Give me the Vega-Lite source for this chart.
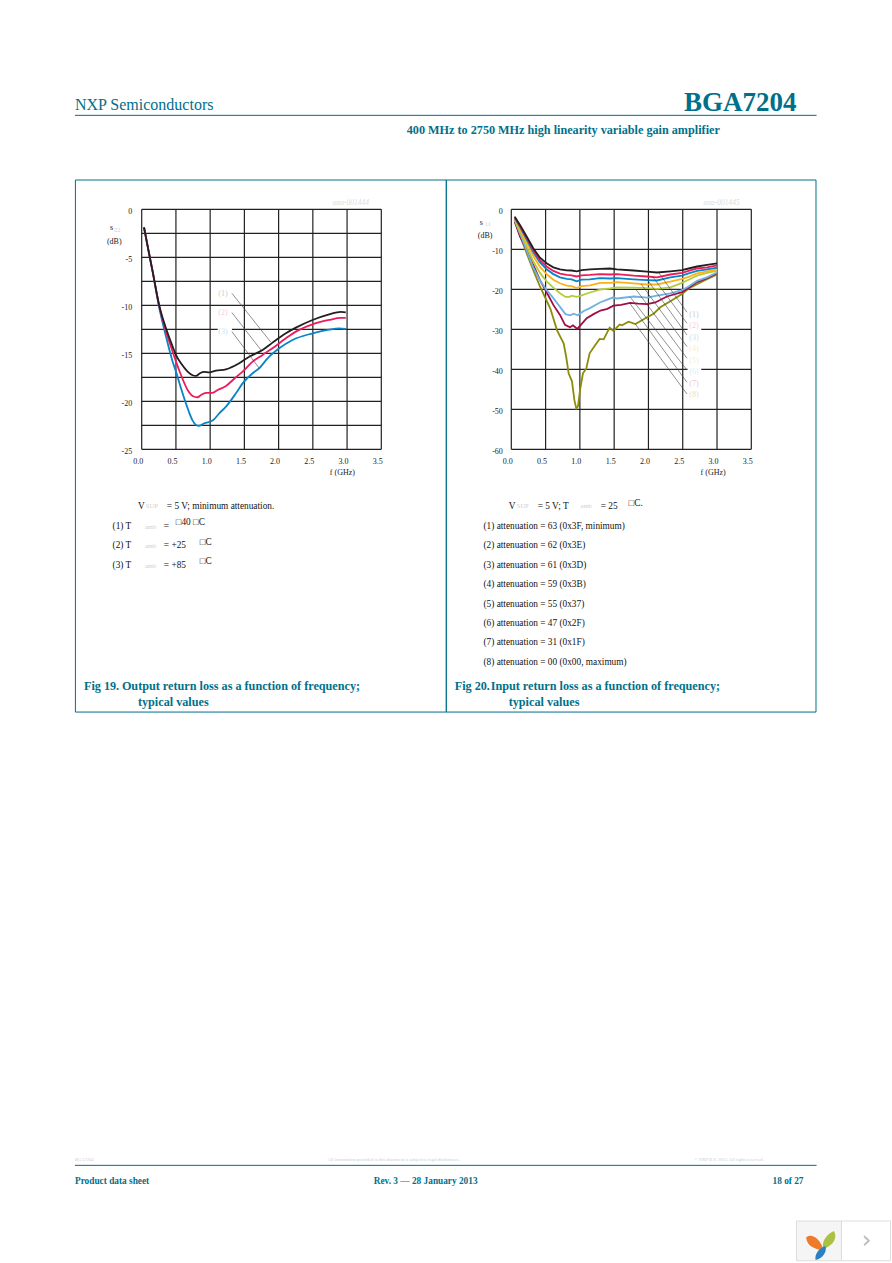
{"$schema":"https://vega.github.io/schema/vega-lite/v6.json","width":892,"height":1263,"autosize":{"type":"fit","contains":"padding"},"padding":0,"background":"white","config":{"view":{"stroke":null},"text":{"font":"Liberation Serif"}},
"datasets":{
"s22":[
{"series":"3","f":0.034,"db":-1.875},{"series":"3","f":0.088,"db":-3.89},{"series":"3","f":0.16,"db":-6.5},{"series":"3","f":0.258,"db":-10.31},{"series":"3","f":0.355,"db":-13.26},{"series":"3","f":0.452,"db":-15.87},{"series":"3","f":0.501,"db":-16.91},{"series":"3","f":0.574,"db":-18.65},{"series":"3","f":0.671,"db":-20.73},{"series":"3","f":0.744,"db":-22.01},{"series":"3","f":0.832,"db":-22.57},{"series":"3","f":0.914,"db":-22.29},{"series":"3","f":1.036,"db":-22.01},{"series":"3","f":1.133,"db":-21.25},{"series":"3","f":1.231,"db":-20.56},{"series":"3","f":1.376,"db":-19.17},{"series":"3","f":1.474,"db":-18.13},{"series":"3","f":1.62,"db":-17.08},{"series":"3","f":1.717,"db":-16.56},{"series":"3","f":1.839,"db":-15.52},{"series":"3","f":2.009,"db":-14.48},{"series":"3","f":2.203,"db":-13.61},{"series":"3","f":2.495,"db":-12.92},{"series":"3","f":2.738,"db":-12.53},{"series":"3","f":2.884,"db":-12.4},{"series":"3","f":2.981,"db":-12.47},
{"series":"2","f":0.034,"db":-1.875},{"series":"2","f":0.088,"db":-3.89},{"series":"2","f":0.16,"db":-6.5},{"series":"2","f":0.258,"db":-10.14},{"series":"2","f":0.355,"db":-12.74},{"series":"2","f":0.452,"db":-14.83},{"series":"2","f":0.501,"db":-15.87},{"series":"2","f":0.574,"db":-17.26},{"series":"2","f":0.671,"db":-18.82},{"series":"2","f":0.744,"db":-19.44},{"series":"2","f":0.817,"db":-19.58},{"series":"2","f":0.866,"db":-19.34},{"series":"2","f":0.939,"db":-19.13},{"series":"2","f":1.026,"db":-19.13},{"series":"2","f":1.109,"db":-18.82},{"series":"2","f":1.231,"db":-18.4},{"series":"2","f":1.376,"db":-17.5},{"series":"2","f":1.474,"db":-16.91},{"series":"2","f":1.62,"db":-15.87},{"series":"2","f":1.766,"db":-15.17},{"series":"2","f":1.911,"db":-14.48},{"series":"2","f":2.106,"db":-13.44},{"series":"2","f":2.252,"db":-12.74},{"series":"2","f":2.495,"db":-11.98},{"series":"2","f":2.738,"db":-11.53},{"series":"2","f":2.908,"db":-11.32},{"series":"2","f":2.981,"db":-11.32},
{"series":"1","f":0.034,"db":-1.875},{"series":"1","f":0.088,"db":-3.89},{"series":"1","f":0.16,"db":-6.5},{"series":"1","f":0.258,"db":-10.07},{"series":"1","f":0.355,"db":-12.4},{"series":"1","f":0.452,"db":-14.3},{"series":"1","f":0.5,"db":-15.17},{"series":"1","f":0.574,"db":-16.04},{"series":"1","f":0.671,"db":-16.9},{"series":"1","f":0.744,"db":-17.29},{"series":"1","f":0.793,"db":-17.36},{"series":"1","f":0.851,"db":-17.08},{"series":"1","f":0.914,"db":-16.94},{"series":"1","f":0.987,"db":-16.98},{"series":"1","f":1.085,"db":-16.8},{"series":"1","f":1.23,"db":-16.67},{"series":"1","f":1.425,"db":-16.04},{"series":"1","f":1.571,"db":-15.35},{"series":"1","f":1.766,"db":-14.65},{"series":"1","f":1.911,"db":-13.89},{"series":"1","f":2.106,"db":-12.92},{"series":"1","f":2.252,"db":-12.33},{"series":"1","f":2.495,"db":-11.53},{"series":"1","f":2.738,"db":-10.94},{"series":"1","f":2.908,"db":-10.69},{"series":"1","f":2.981,"db":-10.73}
],
"s11":[
{"series":"8","f":0.049,"db":-3.1},{"series":"8","f":0.126,"db":-6.4},{"series":"8","f":0.224,"db":-11},{"series":"8","f":0.32,"db":-15.2},{"series":"8","f":0.418,"db":-19.3},{"series":"8","f":0.5,"db":-22.3},{"series":"8","f":0.569,"db":-24.8},{"series":"8","f":0.666,"db":-30.2},{"series":"8","f":0.763,"db":-33.5},{"series":"8","f":0.8,"db":-36.8},{"series":"8","f":0.836,"db":-41},{"series":"8","f":0.885,"db":-43},{"series":"8","f":0.92,"db":-47.7},{"series":"8","f":0.948,"db":-49.8},{"series":"8","f":0.972,"db":-49.3},{"series":"8","f":1.006,"db":-44.8},{"series":"8","f":1.045,"db":-41},{"series":"8","f":1.094,"db":-39.8},{"series":"8","f":1.142,"db":-36},{"series":"8","f":1.225,"db":-33.9},{"series":"8","f":1.288,"db":-32.4},{"series":"8","f":1.347,"db":-32.5},{"series":"8","f":1.434,"db":-29.6},{"series":"8","f":1.49,"db":-30.4},{"series":"8","f":1.58,"db":-28.8},{"series":"8","f":1.614,"db":-29},{"series":"8","f":1.71,"db":-28.1},{"series":"8","f":1.81,"db":-28.7},{"series":"8","f":1.98,"db":-27},{"series":"8","f":2.076,"db":-26.1},{"series":"8","f":2.173,"db":-24.5},{"series":"8","f":2.367,"db":-22.5},{"series":"8","f":2.489,"db":-21.2},{"series":"8","f":2.586,"db":-19.8},{"series":"8","f":2.708,"db":-18.7},{"series":"8","f":2.854,"db":-17.5},{"series":"8","f":3,"db":-16.3},
{"series":"7","f":0.049,"db":-3},{"series":"7","f":0.126,"db":-6.8},{"series":"7","f":0.224,"db":-10.2},{"series":"7","f":0.32,"db":-13.9},{"series":"7","f":0.418,"db":-17.7},{"series":"7","f":0.515,"db":-20.75},{"series":"7","f":0.613,"db":-23.9},{"series":"7","f":0.71,"db":-26.4},{"series":"7","f":0.783,"db":-28.9},{"series":"7","f":0.856,"db":-29.5},{"series":"7","f":0.9,"db":-29},{"series":"7","f":0.963,"db":-29.9},{"series":"7","f":1.1,"db":-27.2},{"series":"7","f":1.2,"db":-26.2},{"series":"7","f":1.3,"db":-25.3},{"series":"7","f":1.4,"db":-24.9},{"series":"7","f":1.49,"db":-24.1},{"series":"7","f":1.6,"db":-23.9},{"series":"7","f":1.735,"db":-23.4},{"series":"7","f":1.85,"db":-23.6},{"series":"7","f":1.98,"db":-23.7},{"series":"7","f":2.1,"db":-23.3},{"series":"7","f":2.27,"db":-21.8},{"series":"7","f":2.37,"db":-21.3},{"series":"7","f":2.49,"db":-20.7},{"series":"7","f":2.586,"db":-19.6},{"series":"7","f":2.708,"db":-18.2},{"series":"7","f":2.854,"db":-17.2},{"series":"7","f":3,"db":-16},
{"series":"6","f":0.049,"db":-2.7},{"series":"6","f":0.126,"db":-6},{"series":"6","f":0.224,"db":-10.3},{"series":"6","f":0.32,"db":-14.5},{"series":"6","f":0.418,"db":-17.8},{"series":"6","f":0.515,"db":-20.2},{"series":"6","f":0.613,"db":-22.2},{"series":"6","f":0.71,"db":-24.4},{"series":"6","f":0.79,"db":-26.2},{"series":"6","f":0.86,"db":-26.5},{"series":"6","f":0.91,"db":-26.1},{"series":"6","f":0.97,"db":-26.5},{"series":"6","f":1.05,"db":-25.5},{"series":"6","f":1.147,"db":-24.7},{"series":"6","f":1.293,"db":-23.3},{"series":"6","f":1.4,"db":-22.6},{"series":"6","f":1.49,"db":-22},{"series":"6","f":1.54,"db":-22.3},{"series":"6","f":1.784,"db":-21.8},{"series":"6","f":1.98,"db":-22.1},{"series":"6","f":2.124,"db":-21.6},{"series":"6","f":2.319,"db":-21},{"series":"6","f":2.489,"db":-20.2},{"series":"6","f":2.586,"db":-19.3},{"series":"6","f":2.708,"db":-17.9},{"series":"6","f":2.854,"db":-17},{"series":"6","f":3,"db":-15.8},
{"series":"5","f":0.049,"db":-2.6},{"series":"5","f":0.126,"db":-5.5},{"series":"5","f":0.224,"db":-9.2},{"series":"5","f":0.32,"db":-13},{"series":"5","f":0.418,"db":-15.9},{"series":"5","f":0.515,"db":-18},{"series":"5","f":0.613,"db":-19.6},{"series":"5","f":0.71,"db":-21},{"series":"5","f":0.79,"db":-21.9},{"series":"5","f":0.85,"db":-21.9},{"series":"5","f":0.88,"db":-21.6},{"series":"5","f":0.953,"db":-21.9},{"series":"5","f":1.026,"db":-21.5},{"series":"5","f":1.147,"db":-20.8},{"series":"5","f":1.293,"db":-20.1},{"series":"5","f":1.439,"db":-19.8},{"series":"5","f":1.54,"db":-19.5},{"series":"5","f":1.784,"db":-19.6},{"series":"5","f":1.98,"db":-19.7},{"series":"5","f":2.124,"db":-19.9},{"series":"5","f":2.319,"db":-19.5},{"series":"5","f":2.489,"db":-18.4},{"series":"5","f":2.586,"db":-17.6},{"series":"5","f":2.708,"db":-16.6},{"series":"5","f":2.854,"db":-15.9},{"series":"5","f":3,"db":-15.4},
{"series":"4","f":0.049,"db":-2.4},{"series":"4","f":0.126,"db":-4.8},{"series":"4","f":0.224,"db":-8.2},{"series":"4","f":0.32,"db":-11.6},{"series":"4","f":0.418,"db":-14.4},{"series":"4","f":0.515,"db":-16.2},{"series":"4","f":0.613,"db":-17.6},{"series":"4","f":0.71,"db":-18.5},{"series":"4","f":0.807,"db":-19.1},{"series":"4","f":0.88,"db":-19.2},{"series":"4","f":0.953,"db":-19.7},{"series":"4","f":1.026,"db":-19.2},{"series":"4","f":1.147,"db":-19},{"series":"4","f":1.293,"db":-18.4},{"series":"4","f":1.439,"db":-18.4},{"series":"4","f":1.54,"db":-18.2},{"series":"4","f":1.784,"db":-18.5},{"series":"4","f":1.98,"db":-18.8},{"series":"4","f":2.124,"db":-18.8},{"series":"4","f":2.319,"db":-18.1},{"series":"4","f":2.489,"db":-17.4},{"series":"4","f":2.586,"db":-16.9},{"series":"4","f":2.708,"db":-16},{"series":"4","f":2.854,"db":-15.5},{"series":"4","f":3,"db":-15},
{"series":"3","f":0.049,"db":-2.2},{"series":"3","f":0.126,"db":-4.4},{"series":"3","f":0.224,"db":-7.5},{"series":"3","f":0.32,"db":-10.7},{"series":"3","f":0.418,"db":-13.3},{"series":"3","f":0.515,"db":-15},{"series":"3","f":0.613,"db":-16.2},{"series":"3","f":0.71,"db":-17},{"series":"3","f":0.807,"db":-17.4},{"series":"3","f":0.88,"db":-17.5},{"series":"3","f":0.953,"db":-18},{"series":"3","f":1.026,"db":-17.6},{"series":"3","f":1.147,"db":-17.5},{"series":"3","f":1.293,"db":-17.2},{"series":"3","f":1.439,"db":-17.3},{"series":"3","f":1.54,"db":-17.2},{"series":"3","f":1.784,"db":-17.5},{"series":"3","f":1.98,"db":-17.7},{"series":"3","f":2.124,"db":-17.8},{"series":"3","f":2.319,"db":-17},{"series":"3","f":2.489,"db":-16.6},{"series":"3","f":2.586,"db":-16},{"series":"3","f":2.708,"db":-15.4},{"series":"3","f":2.854,"db":-15},{"series":"3","f":3,"db":-14.6},
{"series":"2","f":0.049,"db":-2},{"series":"2","f":0.126,"db":-4.1},{"series":"2","f":0.224,"db":-7.1},{"series":"2","f":0.32,"db":-10.2},{"series":"2","f":0.418,"db":-12.7},{"series":"2","f":0.515,"db":-14.3},{"series":"2","f":0.613,"db":-15.4},{"series":"2","f":0.71,"db":-16.1},{"series":"2","f":0.807,"db":-16.4},{"series":"2","f":0.88,"db":-16.5},{"series":"2","f":0.953,"db":-16.8},{"series":"2","f":1.026,"db":-16.5},{"series":"2","f":1.147,"db":-16.4},{"series":"2","f":1.293,"db":-16.2},{"series":"2","f":1.439,"db":-16.3},{"series":"2","f":1.54,"db":-16.2},{"series":"2","f":1.784,"db":-16.6},{"series":"2","f":1.98,"db":-16.8},{"series":"2","f":2.124,"db":-17},{"series":"2","f":2.319,"db":-16.3},{"series":"2","f":2.489,"db":-15.9},{"series":"2","f":2.586,"db":-15.4},{"series":"2","f":2.708,"db":-14.8},{"series":"2","f":2.854,"db":-14.5},{"series":"2","f":3,"db":-14},
{"series":"1","f":0.049,"db":-1.83},{"series":"1","f":0.126,"db":-3.9},{"series":"1","f":0.224,"db":-6.8},{"series":"1","f":0.32,"db":-9.75},{"series":"1","f":0.418,"db":-12.1},{"series":"1","f":0.515,"db":-13.5},{"series":"1","f":0.613,"db":-14.5},{"series":"1","f":0.71,"db":-15},{"series":"1","f":0.807,"db":-15.25},{"series":"1","f":0.88,"db":-15.3},{"series":"1","f":0.953,"db":-15.5},{"series":"1","f":1.026,"db":-15.2},{"series":"1","f":1.147,"db":-15},{"series":"1","f":1.293,"db":-14.9},{"series":"1","f":1.439,"db":-14.8},{"series":"1","f":1.54,"db":-15},{"series":"1","f":1.784,"db":-15.3},{"series":"1","f":1.98,"db":-15.6},{"series":"1","f":2.124,"db":-15.8},{"series":"1","f":2.319,"db":-15.5},{"series":"1","f":2.489,"db":-15.2},{"series":"1","f":2.586,"db":-14.8},{"series":"1","f":2.708,"db":-14.3},{"series":"1","f":2.854,"db":-13.9},{"series":"1","f":3,"db":-13.5}
],
"leftVertical":[{"f":0,"db":-25,"db2":0},{"f":0.5,"db":-25,"db2":0},{"f":1,"db":-25,"db2":0},{"f":1.5,"db":-25,"db2":0},{"f":2,"db":-25,"db2":0},{"f":2.5,"db":-25,"db2":0},{"f":3,"db":-25,"db2":0},{"f":3.5,"db":-25,"db2":0}],
"rightVertical":[{"f":0,"db":-60,"db2":0},{"f":0.5,"db":-60,"db2":0},{"f":1,"db":-60,"db2":0},{"f":1.5,"db":-60,"db2":0},{"f":2,"db":-60,"db2":0},{"f":2.5,"db":-60,"db2":0},{"f":3,"db":-60,"db2":0},{"f":3.5,"db":-60,"db2":0}],
"leftLevels":[{"db":0,"f":0,"f2":3.5},{"db":-2.5,"f":0,"f2":3.5},{"db":-5,"f":0,"f2":3.5},{"db":-7.5,"f":0,"f2":3.5},{"db":-10,"f":0,"f2":3.5},{"db":-12.5,"f":0,"f2":3.5},{"db":-15,"f":0,"f2":3.5},{"db":-17.5,"f":0,"f2":3.5},{"db":-20,"f":0,"f2":3.5},{"db":-22.5,"f":0,"f2":3.5},{"db":-25,"f":0,"f2":3.5}],
"rightLevels":[{"db":0,"f":0,"f2":3.5},{"db":-10,"f":0,"f2":3.5},{"db":-20,"f":0,"f2":3.5},{"db":-30,"f":0,"f2":3.5},{"db":-40,"f":0,"f2":3.5},{"db":-50,"f":0,"f2":3.5},{"db":-60,"f":0,"f2":3.5}],
"leftLeaders":[{"f":1.318,"db":-8.75,"f2":1.887,"db2":-13.85},{"f":1.318,"db":-10.76,"f2":1.741,"db2":-14.65},{"f":1.318,"db":-12.74,"f2":1.717,"db2":-16.56}],
"rightLeaders":[{"f":2.562,"db":-25.75,"f2":2.149,"db2":-15.83},{"f":2.562,"db":-28.5,"f2":2.061,"db2":-16.83},{"f":2.562,"db":-31.42,"f2":1.979,"db2":-17.5},{"f":2.562,"db":-34.33,"f2":1.896,"db2":-18.75},{"f":2.562,"db":-37.25,"f2":1.823,"db2":-20.17},{"f":2.562,"db":-40.17,"f2":1.736,"db2":-22},{"f":2.562,"db":-43.25,"f2":1.736,"db2":-23.67},{"f":2.562,"db":-46.17,"f2":1.808,"db2":-28.67}],
"leftGaps":[{"f":1.11,"f2":1.318,"db":-12.2,"db2":-13}],
"rightGaps":[{"f":2.57,"f2":2.77,"db":-29.5,"db2":-30.5},{"f":2.57,"f2":2.77,"db":-39.5,"db2":-40.5}],
"leftLabels":[{"series":"1","f":1.187,"db":-8.78,"label":"(1)"},{"series":"2","f":1.187,"db":-10.76,"label":"(2)"},{"series":"3","f":1.187,"db":-12.74,"label":"(3)"}],
"rightLabels":[{"series":"1","f":2.664,"db":-26.33,"label":"(1)"},{"series":"2","f":2.664,"db":-29.17,"label":"(2)"},{"series":"3","f":2.664,"db":-32.08,"label":"(3)"},{"series":"4","f":2.664,"db":-34.83,"label":"(4)"},{"series":"5","f":2.664,"db":-37.83,"label":"(5)"},{"series":"6","f":2.664,"db":-40.58,"label":"(6)"},{"series":"7","f":2.664,"db":-43.58,"label":"(7)"},{"series":"8","f":2.664,"db":-46.42,"label":"(8)"}],
"sheetRules":[{"x":50,"x2":544.7,"y":76.9},{"x":50,"x2":544.7,"y":776.9}],
"sheetFrame":[{"x":50.3,"x2":297.7,"y":120,"y2":474.7},{"x":297.7,"x2":544.3,"y":120,"y2":474.7}],
"headerText":[{"x":50,"y":70,"text":"NXP Semiconductors"}],
"titleText":[{"x":531.3,"y":68.7,"text":"BGA7204"}],
"boldText":[{"x":271.3,"y":86.7,"text":"400 MHz to 2750 MHz high linearity variable gain amplifier"},{"x":56,"y":457.3,"text":"Fig 19."},{"x":81.3,"y":457.3,"text":"Output return loss as a function of frequency;"},{"x":92,"y":468,"text":"typical values"},{"x":303.3,"y":457.3,"text":"Fig 20."},{"x":327.3,"y":457.3,"text":"Input return loss as a function of frequency;"},{"x":339.3,"y":468,"text":"typical values"}],
"footerText":[{"x":50,"y":787,"text":"Product data sheet"},{"x":249.3,"y":787,"text":"Rev. 3 — 28 January 2013"},{"x":515.3,"y":787,"text":"18 of 27"}],
"bodyText":[{"x":92,"y":337.1,"text":"V"},{"x":111.3,"y":337.1,"text":"= 5 V; minimum attenuation."},{"x":75.1,"y":350.5,"text":"(1) T"},{"x":109.3,"y":350.5,"text":"="},{"x":117.3,"y":348,"text":"□40 □C"},{"x":75.1,"y":363.3,"text":"(2) T"},{"x":109.3,"y":363.3,"text":"= +25"},{"x":133.3,"y":361.1,"text":"□C"},{"x":75.1,"y":376.7,"text":"(3) T"},{"x":109.3,"y":376.7,"text":"= +85"},{"x":133.3,"y":373.8,"text":"□C"},{"x":339.3,"y":337.1,"text":"V"},{"x":358.7,"y":337.1,"text":"= 5 V; T"},{"x":400.7,"y":337.1,"text":"= 25"},{"x":419.3,"y":335.3,"text":"□C."},{"x":322.5,"y":350.5,"text":"(1) attenuation = 63 (0x3F, minimum)"},{"x":322.5,"y":363.3,"text":"(2) attenuation = 62 (0x3E)"},{"x":322.5,"y":376.7,"text":"(3) attenuation = 61 (0x3D)"},{"x":322.5,"y":389.3,"text":"(4) attenuation = 59 (0x3B)"},{"x":322.5,"y":402.5,"text":"(5) attenuation = 55 (0x37)"},{"x":322.5,"y":415.1,"text":"(6) attenuation = 47 (0x2F)"},{"x":322.5,"y":428.2,"text":"(7) attenuation = 31 (0x1F)"},{"x":322.5,"y":441.1,"text":"(8) attenuation = 00 (0x00, maximum)"}],
"axisText":[{"x":73.3,"y":152,"text":"s"},{"x":71.3,"y":161.3,"text":"(dB)"},{"x":320,"y":148.5,"text":"s"},{"x":318.7,"y":157.3,"text":"(dB)"},{"x":220,"y":315.1,"text":"f (GHz)"},{"x":467.3,"y":315.1,"text":"f (GHz)"}],
"faintText":[{"x":97.3,"y":337.5,"text":"SUP"},{"x":96.7,"y":351,"text":"amb"},{"x":96.7,"y":364,"text":"amb"},{"x":96.7,"y":377,"text":"amb"},{"x":344.7,"y":337.5,"text":"SUP"},{"x":387.3,"y":337.5,"text":"amb"},{"x":76,"y":153.3,"text":"22"},{"x":323.3,"y":149.3,"text":"11"}],
"watermarkText":[{"x":222,"y":135.3,"text":"aaa-001444"},{"x":469.3,"y":135.3,"text":"aaa-001445"}],
"footerFaint":[{"x":50,"y":773.3,"text":"BGA7204"},{"x":218.7,"y":773.3,"text":"All information provided in this document is subject to legal disclaimers."},{"x":463.3,"y":773.3,"text":"© NXP B.V. 2013. All rights reserved."}],
"widgetBox":[{"x":531.3,"x2":561.3,"y":814,"y2":840.5}],
"widgetNext":[{"x":561.3,"x2":594,"y":814,"y2":840.5}],
"widgetChevron":[{"x":578,"y":827,"text":"›"}],
"petalOrange":[{"x":543.7,"y":828}],
"petalGreen":[{"x":552.7,"y":826.7}],
"petalBlue":[{"x":547.3,"y":835.3}]
},
"resolve":{"scale":{"x":"independent","y":"independent","color":"independent"}},
"layer":[
{"encoding":{"x":{"field":"x","type":"quantitative","scale":{"domain":[0,595],"range":[0,892],"nice":false,"zero":false},"axis":null},"y":{"field":"y","type":"quantitative","scale":{"domain":[0,842],"range":[0,1263],"nice":false,"zero":false},"axis":null}},
"layer":[
{"data":{"name":"sheetRules"},"mark":{"type":"rule","color":"#00708a","strokeWidth":1},"encoding":{"x2":{"field":"x2"}}},
{"data":{"name":"sheetFrame"},"mark":{"type":"rect","fill":null,"stroke":"#00708a","strokeWidth":1},"encoding":{"x2":{"field":"x2"},"y2":{"field":"y2"}}},
{"data":{"name":"widgetBox"},"mark":{"type":"rect","fill":"#f5f5f5","stroke":"#dddddd","strokeWidth":1},"encoding":{"x2":{"field":"x2"},"y2":{"field":"y2"}}},
{"data":{"name":"widgetNext"},"mark":{"type":"rect","fill":"#ffffff","stroke":"#dddddd","strokeWidth":1},"encoding":{"x2":{"field":"x2"},"y2":{"field":"y2"}}},
{"data":{"name":"petalOrange"},"mark":{"type":"point","filled":true,"opacity":1,"color":"#ee7a2a","size":324,"shape":"M-1,-0.5 C-0.5,-1 0.5,-0.6 1,1 C0.2,0.8 -0.9,0.6 -1,-0.5 Z"}},
{"data":{"name":"petalGreen"},"mark":{"type":"point","filled":true,"opacity":1,"color":"#a9c243","size":324,"shape":"M0.6,-1 C1,-0.3 0.6,0.6 -0.6,1 C-0.8,0.2 -0.3,-0.6 0.6,-1 Z"}},
{"data":{"name":"petalBlue"},"mark":{"type":"point","filled":true,"opacity":1,"color":"#2b7fc4","size":196,"shape":"M0.7,-1 C1,-0.2 0.3,0.8 -0.7,1 C-0.9,0.2 -0.2,-0.7 0.7,-1 Z"}},
{"data":{"name":"widgetChevron"},"mark":{"type":"text","fontSize":24,"color":"#bbbbbb","align":"center","baseline":"middle","font":"DejaVu Sans"},"encoding":{"text":{"field":"text"}}},
{"data":{"name":"headerText"},"mark":{"type":"text","fontSize":16,"color":"#00708a","align":"left","baseline":"middle"},"encoding":{"text":{"field":"text"}}},
{"data":{"name":"titleText"},"mark":{"type":"text","fontSize":27,"fontWeight":"bold","color":"#00708a","align":"right","baseline":"middle"},"encoding":{"text":{"field":"text"}}},
{"data":{"name":"boldText"},"mark":{"type":"text","fontSize":12.2,"fontWeight":"bold","color":"#00708a","align":"left","baseline":"middle"},"encoding":{"text":{"field":"text"}}},
{"data":{"name":"footerText"},"mark":{"type":"text","fontSize":9.3,"fontWeight":"bold","color":"#00708a","align":"left","baseline":"middle"},"encoding":{"text":{"field":"text"}}},
{"data":{"name":"bodyText"},"mark":{"type":"text","fontSize":9.3,"color":"#111111","align":"left","baseline":"middle"},"encoding":{"text":{"field":"text"}}},
{"data":{"name":"axisText"},"mark":{"type":"text","fontSize":8,"color":"#222222","align":"left","baseline":"middle"},"encoding":{"text":{"field":"text"}}},
{"data":{"name":"faintText"},"mark":{"type":"text","fontSize":6.5,"color":"#cfcfcf","align":"left","baseline":"middle"},"encoding":{"text":{"field":"text"}}},
{"data":{"name":"watermarkText"},"mark":{"type":"text","fontSize":7.5,"fontStyle":"italic","color":"#dddddd","align":"left","baseline":"middle"},"encoding":{"text":{"field":"text"}}},
{"data":{"name":"footerFaint"},"mark":{"type":"text","fontSize":4.5,"color":"#cccccc","align":"left","baseline":"middle"},"encoding":{"text":{"field":"text"}}}
]},
{"encoding":{"x":{"field":"f","type":"quantitative","scale":{"domain":[0,3.5],"range":[141.7,381.3],"nice":false,"zero":false},"axis":{"orient":"bottom","offset":-813.7,"values":[0,0.5,1,1.5,2,2.5,3,3.5],"format":".1f","title":null,"grid":false,"ticks":false,"domain":false,"labelFont":"Liberation Serif","labelFontSize":8,"labelColor":"#222222","labelPadding":8,"labelOffset":-4,"labelFlush":false,"labelOverlap":false}},"y":{"field":"db","type":"quantitative","scale":{"domain":[-25,0],"range":[449.3,209.3],"nice":false,"zero":false},"axis":{"orient":"left","offset":-141.7,"values":[0,-5,-10,-15,-20,-25],"labelExpr":"toString(datum.value)","title":null,"grid":false,"ticks":false,"domain":false,"labelFont":"Liberation Serif","labelFontSize":8,"labelColor":"#222222","labelPadding":10,"labelOffset":2,"labelFlush":false,"labelOverlap":false}}},
"layer":[
{"data":{"name":"leftLevels"},"mark":{"type":"rule","color":"#222222","strokeWidth":1.2},"encoding":{"x2":{"field":"f2"}}},
{"data":{"name":"leftVertical"},"mark":{"type":"rule","color":"#222222","strokeWidth":1.2},"encoding":{"y2":{"field":"db2"}}},
{"data":{"name":"leftGaps"},"mark":{"type":"rect","fill":"white"},"encoding":{"x2":{"field":"f2"},"y2":{"field":"db2"}}},
{"data":{"name":"s22"},"mark":{"type":"line","strokeWidth":1.8,"interpolate":"monotone"},"encoding":{"color":{"field":"series","type":"nominal","scale":{"domain":["1","2","3"],"range":["#231f20","#ec1c5b","#0a84c6"]},"legend":null}}},
{"data":{"name":"leftLeaders"},"mark":{"type":"rule","color":"#444444","strokeWidth":0.6},"encoding":{"x2":{"field":"f2"},"y2":{"field":"db2"}}},
{"data":{"name":"leftLabels"},"mark":{"type":"text","fontSize":8,"opacity":0.25,"align":"center","baseline":"middle"},"encoding":{"text":{"field":"label"},"color":{"field":"series","type":"nominal","legend":null}}}
]},
{"encoding":{"x":{"field":"f","type":"quantitative","scale":{"domain":[0,3.5],"range":[511.3,751.3],"nice":false,"zero":false},"axis":{"orient":"bottom","offset":-813.7,"values":[0,0.5,1,1.5,2,2.5,3,3.5],"format":".1f","title":null,"grid":false,"ticks":false,"domain":false,"labelFont":"Liberation Serif","labelFontSize":8,"labelColor":"#222222","labelPadding":8,"labelOffset":-4,"labelFlush":false,"labelOverlap":false}},"y":{"field":"db","type":"quantitative","scale":{"domain":[-60,0],"range":[449.3,209.3],"nice":false,"zero":false},"axis":{"orient":"left","offset":-511.3,"values":[0,-10,-20,-30,-40,-50,-60],"labelExpr":"toString(datum.value)","title":null,"grid":false,"ticks":false,"domain":false,"labelFont":"Liberation Serif","labelFontSize":8,"labelColor":"#222222","labelPadding":9,"labelOffset":2,"labelFlush":false,"labelOverlap":false}}},
"layer":[
{"data":{"name":"rightLevels"},"mark":{"type":"rule","color":"#222222","strokeWidth":1.2},"encoding":{"x2":{"field":"f2"}}},
{"data":{"name":"rightVertical"},"mark":{"type":"rule","color":"#222222","strokeWidth":1.2},"encoding":{"y2":{"field":"db2"}}},
{"data":{"name":"rightGaps"},"mark":{"type":"rect","fill":"white"},"encoding":{"x2":{"field":"f2"},"y2":{"field":"db2"}}},
{"data":{"name":"s11"},"mark":{"type":"line","strokeWidth":1.8},"encoding":{"color":{"field":"series","type":"nominal","scale":{"domain":["1","2","3","4","5","6","7","8"],"range":["#231f20","#ec1c5b","#0a84c6","#fdb01a","#b5cc3a","#6fb1e4","#a30a46","#8c8c0c"]},"legend":null}}},
{"data":{"name":"rightLeaders"},"mark":{"type":"rule","color":"#444444","strokeWidth":0.6},"encoding":{"x2":{"field":"f2"},"y2":{"field":"db2"}}},
{"data":{"name":"rightLabels"},"mark":{"type":"text","fontSize":8,"opacity":0.25,"align":"center","baseline":"middle"},"encoding":{"text":{"field":"label"},"color":{"field":"series","type":"nominal","legend":null}}}
]}
]}
